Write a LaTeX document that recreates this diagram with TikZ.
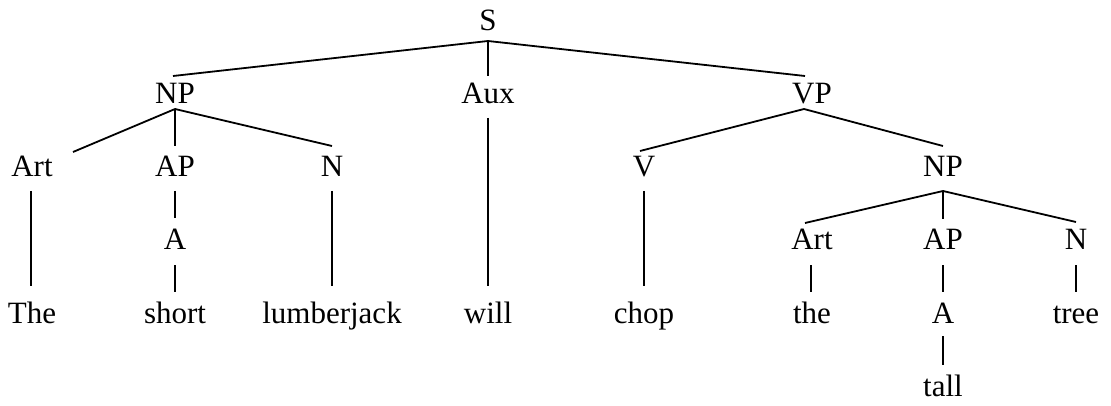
\documentclass[tikz,border=0pt]{standalone}
\usepackage{fontspec}
\setmainfont{Liberation Serif}
\usetikzlibrary{calc}
\begin{document}
\begin{tikzpicture}[x=1pt,y=-1pt,
  lbl/.style={anchor=base,inner sep=0pt,font=\fontsize{31}{37}\selectfont},
  br/.style={line width=1.8pt},
  tn/.style={line width=1.1pt}]
\useasboundingbox (0,0) rectangle (1111,406);
% level 0
\node[lbl] (S) at (488,31) {S};
% level 1
\node[lbl] (NP1) at (175,104) {NP};
\node[lbl] (Aux) at (488,104) {Aux};
\node[lbl] (VP) at (812,104) {VP};
% level 2
\node[lbl] (Art1) at (32,177) {Art};
\node[lbl] (AP1) at (175,177) {AP};
\node[lbl] (N1) at (332,177) {N};
\node[lbl] (V) at (644,177) {V};
\node[lbl] (NP2) at (943,177) {NP};
% level 3
\node[lbl] (A1) at (175,250) {A};
\node[lbl] (Art2) at (812,250) {Art};
\node[lbl] (AP2) at (943,250) {AP};
\node[lbl] (N2) at (1076,250) {N};
% level 4
\node[lbl] (The) at (32,323) {The};
\node[lbl] (short) at (175,323) {short};
\node[lbl] (lumberjack) at (332,323) {lumberjack};
\node[lbl] (will) at (488,323) {will};
\node[lbl] (chop) at (644,323) {chop};
\node[lbl] (the) at (812,323) {the};
\node[lbl] (A2) at (943,323) {A};
\node[lbl] (tree) at (1076,323) {tree};
% level 5
\node[lbl] (tall) at (943,396) {tall};

% S
\draw[br] ($(S.base)+(0,10)$) -- ($(NP1.base)+(-2,-28)$);
\draw[br] ($(S.base)+(0,10)$) -- ($(Aux.base)+(0,-28)$);
\draw[br] ($(S.base)+(0,10)$) -- ($(VP.base)+(-7,-28)$);
% NP1
\draw[br] ($(NP1.base)+(0,5)$) -- ($(Art1.base)+(41,-25)$);
\draw[tn] ($(NP1.base)+(0,5)$) -- ($(AP1.base)+(0,-31)$);
\draw[br] ($(NP1.base)+(0,5)$) -- ($(N1.base)+(0,-31)$);
\draw[br] ($(Art1.base)+(-1,14)$) -- ($(The.base)+(-1,-37)$);
\draw[tn] ($(AP1.base)+(0,14)$) -- ($(A1.base)+(0,-32)$);
\draw[tn] ($(A1.base)+(0,15)$) -- ($(short.base)+(0,-31)$);
\draw[br] ($(N1.base)+(0,14)$) -- ($(lumberjack.base)+(0,-37)$);
% Aux
\draw[br] ($(Aux.base)+(0,14)$) -- ($(will.base)+(0,-37)$);
% VP
\draw[br] ($(VP.base)+(-8,5)$) -- ($(V.base)+(-4,-26)$);
\draw[br] ($(VP.base)+(-8,5)$) -- ($(NP2.base)+(0,-31)$);
\draw[br] ($(V.base)+(0,14)$) -- ($(chop.base)+(0,-37)$);
% NP2
\draw[br] ($(NP2.base)+(0,14)$) -- ($(Art2.base)+(-7,-27)$);
\draw[tn] ($(NP2.base)+(0,14)$) -- ($(AP2.base)+(0,-31)$);
\draw[br] ($(NP2.base)+(0,14)$) -- ($(N2.base)+(0,-28)$);
\draw[tn] ($(Art2.base)+(-1,15)$) -- ($(the.base)+(-1,-31)$);
\draw[tn] ($(AP2.base)+(0,15)$) -- ($(A2.base)+(0,-31)$);
\draw[tn] ($(N2.base)+(0,15)$) -- ($(tree.base)+(0,-31)$);
\draw[tn] ($(A2.base)+(0,13)$) -- ($(tall.base)+(0,-31)$);
\end{tikzpicture}
\end{document}
